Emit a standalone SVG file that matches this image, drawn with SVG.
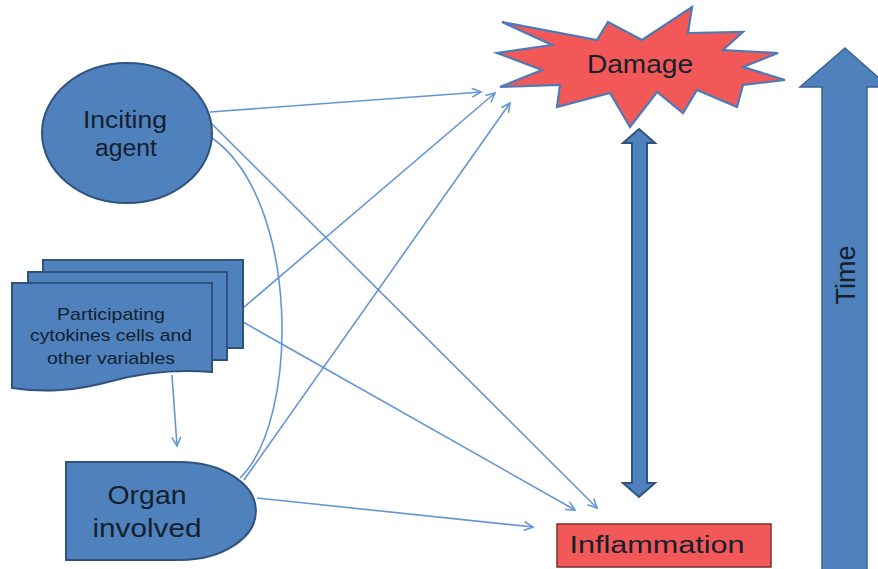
<svg xmlns="http://www.w3.org/2000/svg" width="878" height="569" viewBox="0 0 878 569">
<defs>
<style>
.node{fill:#4f81bd;stroke:#2f527f;stroke-width:2}
.lbl{font-family:"Liberation Sans",Arial,sans-serif;fill:#14202e;text-anchor:middle}
.con{fill:none;stroke:#6496d4;stroke-width:1.6}
.arr{marker-end:url(#ah)}
</style>
<marker id="ah" markerUnits="userSpaceOnUse" markerWidth="14" markerHeight="14" refX="10" refY="5" orient="auto">
<path d="M1,0.5 L10,5 L1,9.5" fill="none" stroke="#6496d4" stroke-width="1.6"/>
</marker>
</defs>
<rect width="878" height="569" fill="#ffffff"/>

<g id="connectors">
<line class="con arr" x1="210" y1="112" x2="481" y2="92"/>
<line class="con arr" x1="210" y1="122" x2="597" y2="508"/>
<path class="con" d="M212,138 C300,200 300,420 240,478"/>
<line class="con arr" x1="243" y1="308" x2="495" y2="93"/>
<line class="con arr" x1="243" y1="322" x2="575" y2="510"/>
<line class="con arr" x1="172" y1="375" x2="177" y2="446"/>
<line class="con arr" x1="244" y1="480" x2="510" y2="103"/>
<line class="con arr" x1="257" y1="498" x2="533" y2="527"/>
</g>

<g id="inciting-agent">
<ellipse class="node" cx="127" cy="133" rx="85" ry="70"/>
<text class="lbl" x="125" y="128" font-size="23" textLength="84" lengthAdjust="spacingAndGlyphs">Inciting</text>
<text class="lbl" x="126" y="156" font-size="23" textLength="62" lengthAdjust="spacingAndGlyphs">agent</text>
</g>

<g id="cytokines">
<rect class="node" x="43" y="260" width="200" height="88"/>
<rect class="node" x="28" y="272" width="199" height="88"/>
<path class="node" d="M12,283 H212 V372 C175,369 145,372 112,381 C75,391 45,393 12,388 Z"/>
<text class="lbl" x="111" y="320" font-size="17" textLength="108" lengthAdjust="spacingAndGlyphs">Participating</text>
<text class="lbl" x="111" y="341" font-size="17" textLength="162" lengthAdjust="spacingAndGlyphs">cytokines cells and</text>
<text class="lbl" x="111" y="364" font-size="17" textLength="128" lengthAdjust="spacingAndGlyphs">other variables</text>
</g>

<g id="organ-involved">
<path class="node" d="M66,462 H180 A76,49 0 0 1 180,560 H66 Z"/>
<text class="lbl" x="147" y="504" font-size="26" textLength="79" lengthAdjust="spacingAndGlyphs">Organ</text>
<text class="lbl" x="147" y="537" font-size="26" textLength="109" lengthAdjust="spacingAndGlyphs">involved</text>
</g>

<g id="damage">
<polygon points="502,22 597,40 608,22 642,40 692,7 688,33 743,32 723,50 778,53 743,67 785,80 743,85 737,107 697,90 683,113 657,92 630,127 610,93 557,107 560,85 500,87 542,70 497,53 552,45" fill="#f35858" stroke="#4a7bb8" stroke-width="2.2" stroke-linejoin="miter"/>
<text class="lbl" x="640" y="73" font-size="25" textLength="106" lengthAdjust="spacingAndGlyphs">Damage</text>
</g>

<g id="inflammation">
<rect x="557" y="524" width="214" height="43" fill="#f35858" stroke="#7a3030" stroke-width="1.5"/>
<text class="lbl" x="657" y="553" font-size="23.5" textLength="175" lengthAdjust="spacingAndGlyphs">Inflammation</text>
</g>

<g id="damage-inflammation-arrow">
<polygon class="node" points="639,129 655,143 647,143 647,483 655,483 639,497 623,483 632,483 632,143 623,143" stroke-width="1.5"/>
</g>

<g id="time">
<polygon points="845,48 889,87 867,87 867,580 822,580 822,87 800,87" fill="#4f81bd" stroke="#3a6194" stroke-width="1.5"/>
<text class="lbl" transform="translate(855,275) rotate(-90)" x="0" y="0" font-size="27">Time</text>
</g>
</svg>
